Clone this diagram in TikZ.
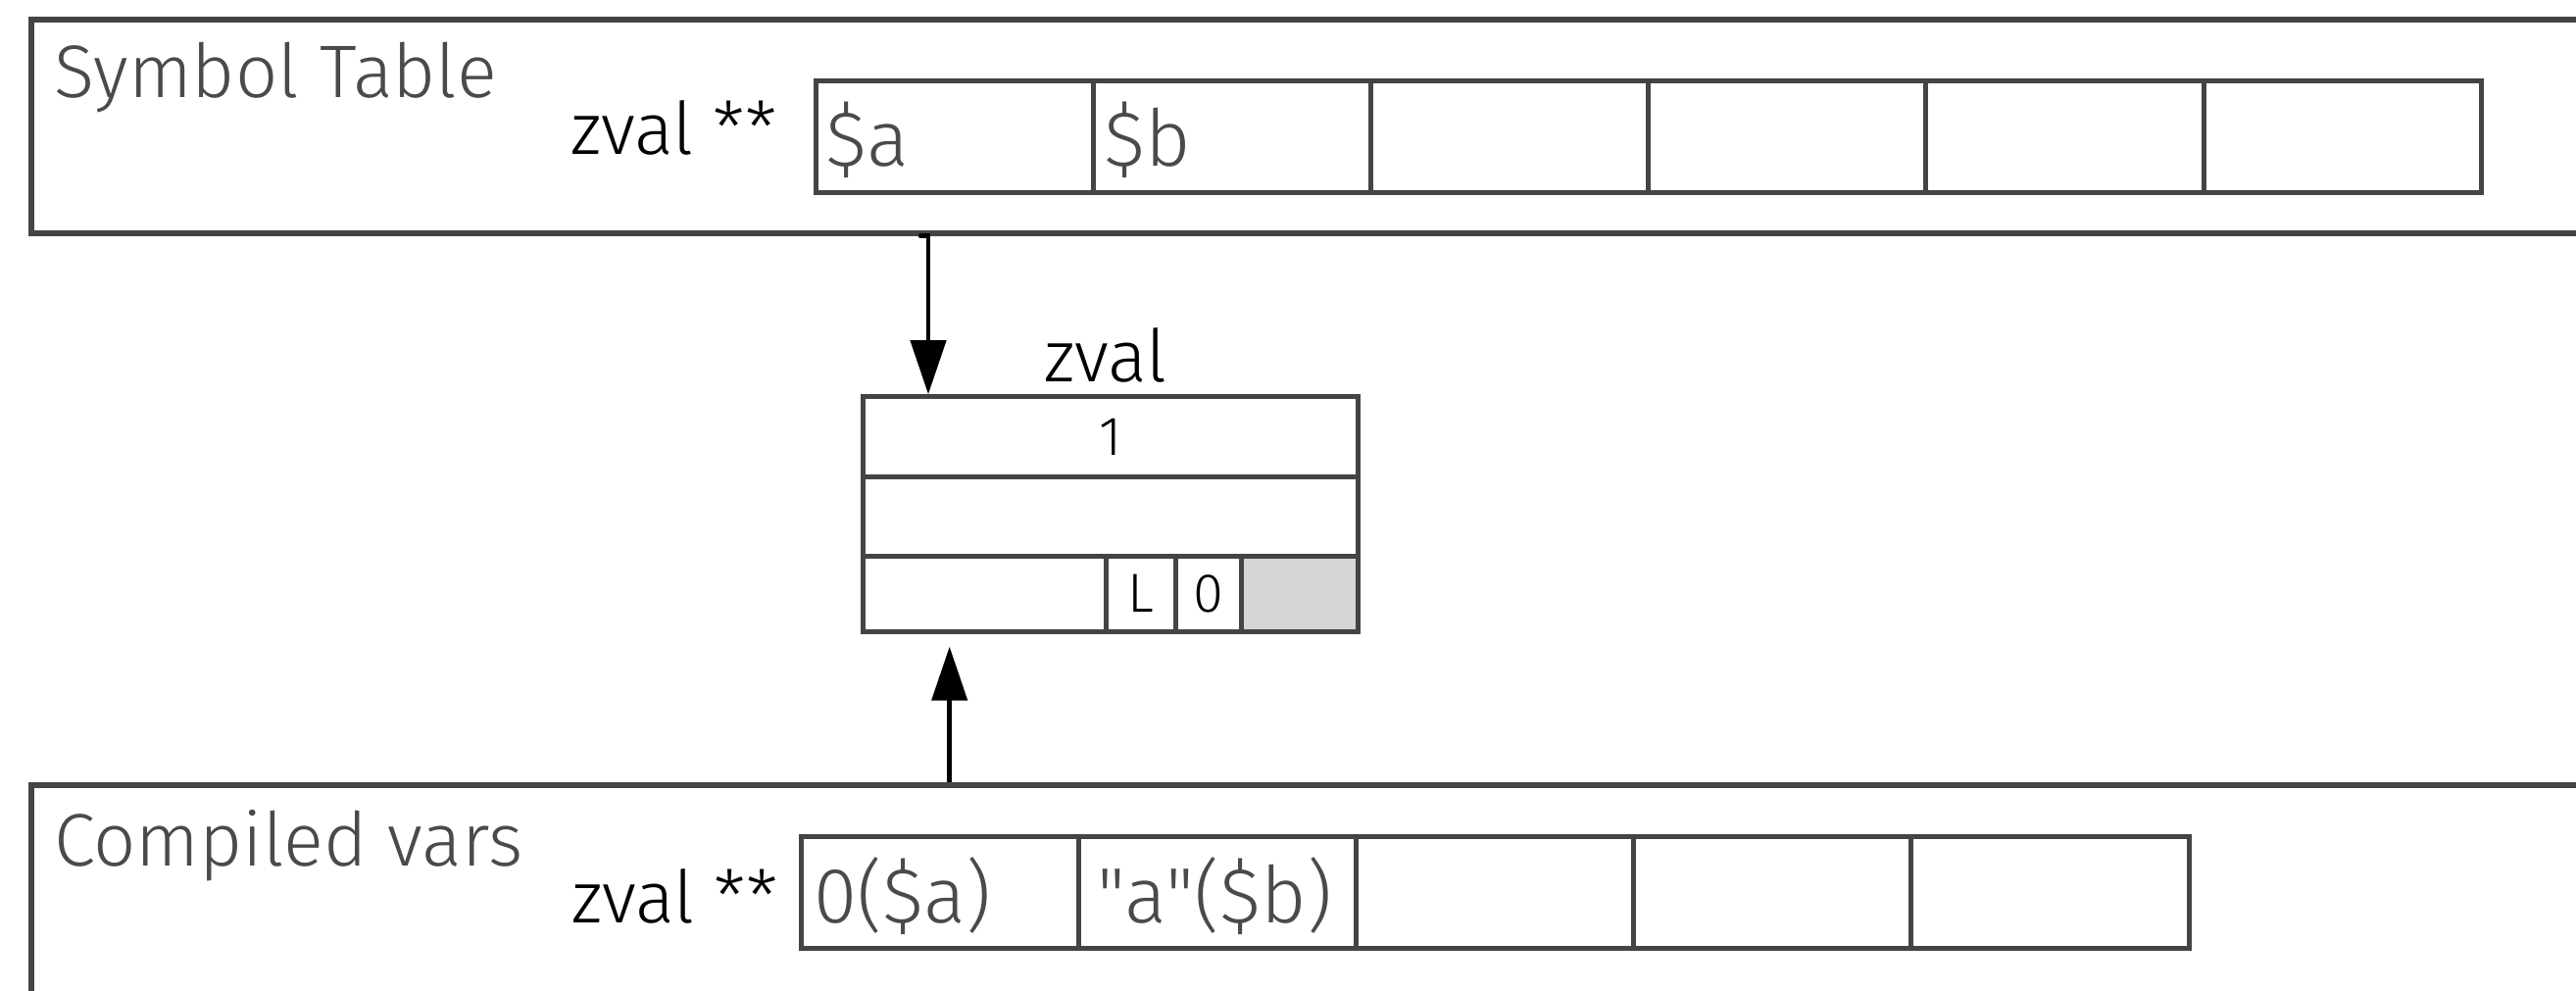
\documentclass[tikz,border=0pt]{standalone}
\usepackage{fontspec}
\setmainfont{Fira Sans}[UprightFont=* Light]
\newfontfamily\rawfont{Fira Sans}[UprightFont=* Light]
\usetikzlibrary{arrows.meta}
\definecolor{lc}{HTML}{444444}
\definecolor{tc}{HTML}{4A4A4A}
\definecolor{gf}{HTML}{D6D6D6}
\tikzset{
  frame/.style={draw=lc, line width=6pt, anchor=north west, inner sep=0pt},
  cell/.style={draw=lc, line width=5pt, anchor=north west, minimum width=283.2pt, minimum height=114pt, inner sep=0pt},
  zrow/.style={draw=lc, line width=5pt, anchor=north west, inner sep=0pt, font=\fontsize{56}{64}\selectfont},
  biglbl/.style={text=tc, font=\fontsize{76}{88}\selectfont, anchor=base west, inner sep=0pt},
  blk/.style={text=black, font=\fontsize{74}{86}\selectfont, inner sep=0pt},
  celltxt/.style={text=tc, font=\rawfont\fontsize{80}{90}\selectfont, anchor=west, inner sep=0pt},
  arr/.style={draw=black, line width=4.5pt, -{Triangle[length=55pt,width=36pt]}}
}
\begin{document}
\begin{tikzpicture}[x=1pt,y=-1pt]
\clip (0,0) rectangle (2628,1011);
\fill[white] (0,0) rectangle (2628,1011);

% Symbol table frame
\node[frame, minimum width=2700pt, minimum height=217.8pt] (symtab) at (28.5,16.8) {};
\node[biglbl] (symlbl) at (55,100) {Symbol Table};
\node[blk, anchor=base west] (symz) at (582,158) {zval **};
\node[cell] (s1) at (829.6,80.4) {};
\node[cell] (s2) at (1112.8,80.4) {};
\node[cell] (s3) at (1396.0,80.4) {};
\node[cell] (s4) at (1679.2,80.4) {};
\node[cell] (s5) at (1962.4,80.4) {};
\node[cell] (s6) at (2245.6,80.4) {};
\node[celltxt] (s1t) at ([xshift=13pt,yshift=-3pt]s1.west) {\$a};
\node[celltxt] (s2t) at ([xshift=13pt,yshift=-3pt]s2.west) {\$b};

% zval box
\node[blk, anchor=base] (zlbl) at (1128,389) {zval};
\node[zrow, minimum width=504.5pt, minimum height=82pt] (zr1) at (878.2,402.2) {1};
\node[zrow, minimum width=504.5pt, minimum height=80.5pt] (zr2) at (878.2,484.2) {};
\node[zrow, minimum width=248.1pt, minimum height=77pt] (zr3) at (878.2,564.7) {};
\node[zrow, minimum width=70.4pt, minimum height=77pt] (zL) at (1126.3,564.7) {L};
\node[zrow, minimum width=67pt, minimum height=77pt] (z0) at (1196.7,564.7) {0};
\node[zrow, fill=gf, minimum width=119pt, minimum height=77pt] (zg) at (1263.7,564.7) {};

% Compiled vars frame
\node[frame, minimum width=2700pt, minimum height=400pt] (cvars) at (28.5,797.8) {};
\node[biglbl] (cvlbl) at (55,883) {Compiled vars};
\node[blk, anchor=base west] (cvz) at (583,941) {zval **};
\node[cell] (c1) at (814.5,851.4) {};
\node[cell] (c2) at (1097.7,851.4) {};
\node[cell] (c3) at (1380.9,851.4) {};
\node[cell] (c4) at (1664.1,851.4) {};
\node[cell] (c5) at (1947.3,851.4) {};
\node[celltxt] (c1t) at ([xshift=16pt,yshift=-3pt]c1.west) {0(\$a)};
\node[celltxt] (c2t) at ([xshift=22pt,yshift=-3pt]c2.west) {"a"(\$b)};

% arrows
\coordinate (ax) at (947,0);
\coordinate (bx) at (968.7,0);
\draw[arr, line cap=round] ([xshift=-8pt]symtab.south -| ax) -- (symtab.south -| ax) -- (zr1.north -| ax);
\draw[arr, shorten >=13pt] (cvars.north -| bx) -- (zr3.south -| bx);
\end{tikzpicture}
\end{document}
